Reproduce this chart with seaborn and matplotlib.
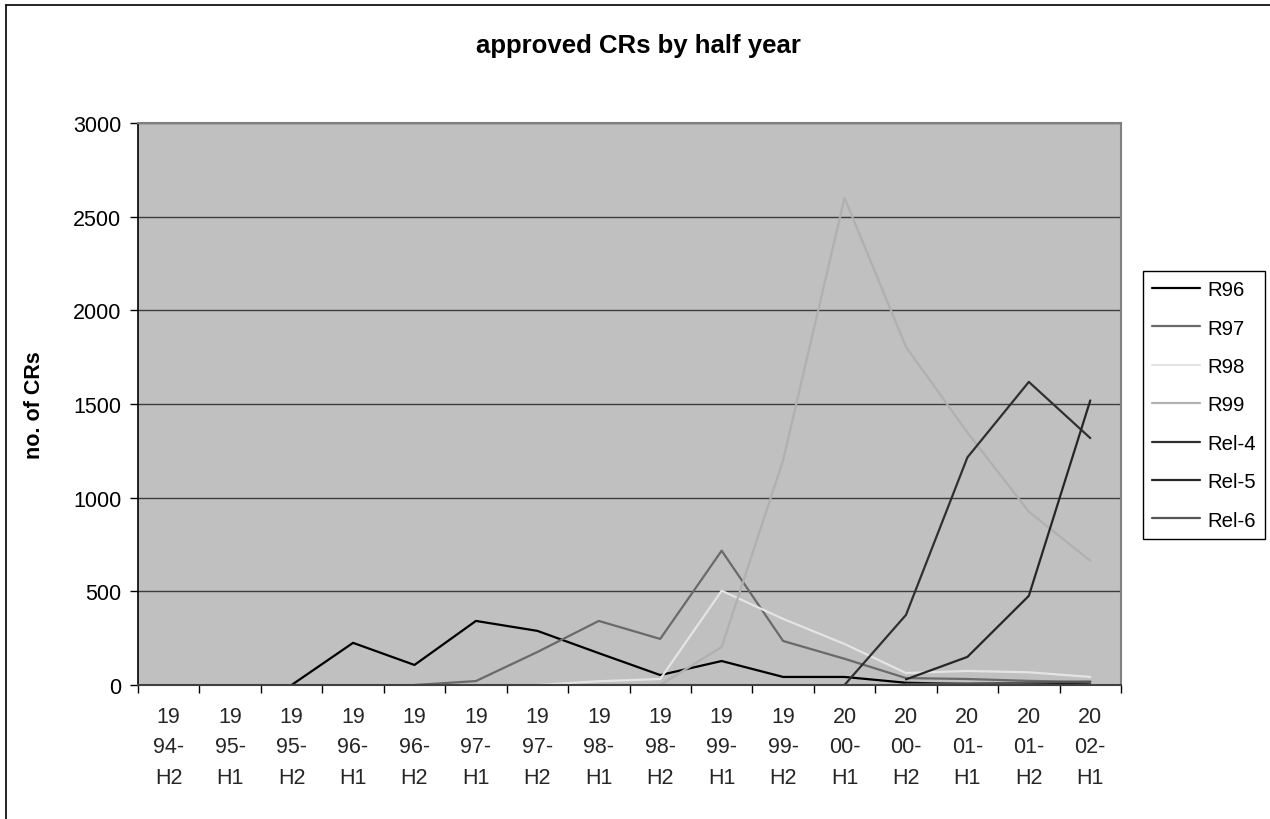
import numpy as np
import pandas as pd
import matplotlib
matplotlib.use("Agg")
import matplotlib.pyplot as plt
from matplotlib.lines import Line2D
import seaborn as sns

# ---- data ----
periods = ["1994-H2", "1995-H1", "1995-H2", "1996-H1", "1996-H2", "1997-H1",
           "1997-H2", "1998-H1", "1998-H2", "1999-H1", "1999-H2", "2000-H1",
           "2000-H2", "2001-H1", "2001-H2", "2002-H1"]
tick_labels = ["19\n94-\nH2", "19\n95-\nH1", "19\n95-\nH2", "19\n96-\nH1",
               "19\n96-\nH2", "19\n97-\nH1", "19\n97-\nH2", "19\n98-\nH1",
               "19\n98-\nH2", "19\n99-\nH1", "19\n99-\nH2", "20\n00-\nH1",
               "20\n00-\nH2", "20\n01-\nH1", "20\n01-\nH2", "20\n02-\nH1"]
nan = np.nan
R96 = [nan, nan, 0, 225, 107, 342, 289, 170, 53, 128, 43, 43, 12, 5, 6, 3]
R97 = [nan, nan, nan, nan, 0, 21, 176, 342, 246, 717, 235, 140, 37, 32, 22, 16]
R98 = [nan, nan, nan, nan, nan, nan, 0, 20, 32, 503, 353, 219, 64, 75, 68, 43]
R99 = [nan, nan, nan, nan, nan, nan, nan, nan, 0, 203, 1200, 2600, 1805, 1348, 925, 663]
Rel4 = [nan, nan, nan, nan, nan, nan, nan, nan, nan, nan, nan, 0, 374, 1215, 1618, 1318]
Rel5 = [nan, nan, nan, nan, nan, nan, nan, nan, nan, nan, nan, nan, 30, 150, 476, 1519]
Rel6 = [nan, nan, nan, nan, nan, nan, nan, nan, nan, nan, nan, nan, 5, 8, 12, 18]

series_names = ["R96", "R97", "R98", "R99", "Rel-4", "Rel-5", "Rel-6"]
series_values = [R96, R97, R98, R99, Rel4, Rel5, Rel6]
colors = ["#000000", "#6a6a6a", "#e4e4e4", "#b0b0b0", "#303030", "#262626", "#555555"]

rows = []
for name, vals in zip(series_names, series_values):
    for i, (p, v) in enumerate(zip(periods, vals)):
        rows.append({"pos": i, "period": p, "release": name, "count": v})
df = pd.DataFrame(rows).dropna()

# ---- style ----
sns.set_theme(style="white")
plt.rcParams["font.family"] = ["Liberation Sans", "DejaVu Sans"]

W, H = 1270, 820
fig = plt.figure(figsize=(W / 100, H / 100), dpi=100)
ax = fig.add_axes([138 / W, 1 - 686 / H, (1121 - 138) / W, (686 - 124) / H])
ax.set_facecolor("#c0c0c0")

sns.lineplot(data=df, x="pos", y="count", hue="release", hue_order=series_names,
             palette=dict(zip(series_names, colors)), estimator=None,
             linewidth=1.6, ax=ax, legend=False)

ax.set_xlim(-0.5, len(periods) - 0.5)
ax.set_ylim(0, 3000)
ax.set_yticks(np.arange(0, 3001, 500))
ax.set_xticks(np.arange(len(periods)))
ax.set_xticklabels(tick_labels, fontsize=15.5, linespacing=1.6, va="top")
ax.set_xticks(np.arange(-0.5, len(periods)), minor=True)
ax.tick_params(axis="x", which="major", length=0, pad=15)
ax.tick_params(axis="x", which="minor", length=6, width=1, color="black",
               direction="out", bottom=True)
ax.tick_params(axis="y", length=6, width=1, color="black", direction="out",
               left=True, labelsize=15.5, pad=6)
for t in ax.get_yticklabels():
    t.set_color("black")

ax.grid(axis="y", color="#3c3c3c", linewidth=1)
ax.grid(axis="x", visible=False)
ax.set_axisbelow(True)

ax.spines["left"].set_color("black")
ax.spines["left"].set_linewidth(1.2)
ax.spines["bottom"].set_color("#404040")
ax.spines["bottom"].set_linewidth(1.5)
ax.spines["top"].set_color("#808080")
ax.spines["top"].set_linewidth(1.5)
ax.spines["right"].set_color("#808080")
ax.spines["right"].set_linewidth(1.5)

ax.set_xlabel("")
ax.set_ylabel("no. of CRs", fontsize=15.5, fontweight="bold", color="black", labelpad=20)
fig.text(638 / W, 1 - 46 / H, "approved CRs by half year", ha="center", va="center",
         fontsize=18.5, fontweight="bold", color="black")

# legend
handles = [Line2D([0], [0], color=c, lw=1.6) for c in colors]
leg = fig.legend(handles, series_names, loc="upper left",
                 bbox_to_anchor=(1143 / W, 1 - 272 / H), bbox_transform=fig.transFigure,
                 fontsize=14.7, frameon=True, fancybox=False, framealpha=1,
                 edgecolor="black", handlelength=2.35, handletextpad=0.34,
                 labelspacing=0.95, borderpad=0.45, borderaxespad=0)
leg.get_frame().set_linewidth(1)
for t in leg.get_texts():
    t.set_color("black")

# outer chart border (left and top visible)
fig.add_artist(Line2D([6 / W, 6 / W], [0, 1 - 6 / H], color="black", lw=1.2,
                      transform=fig.transFigure))
fig.add_artist(Line2D([6 / W, 1], [1 - 6 / H, 1 - 6 / H], color="black", lw=1.2,
                      transform=fig.transFigure))

fig.savefig("out.png", dpi=100, facecolor="white")
